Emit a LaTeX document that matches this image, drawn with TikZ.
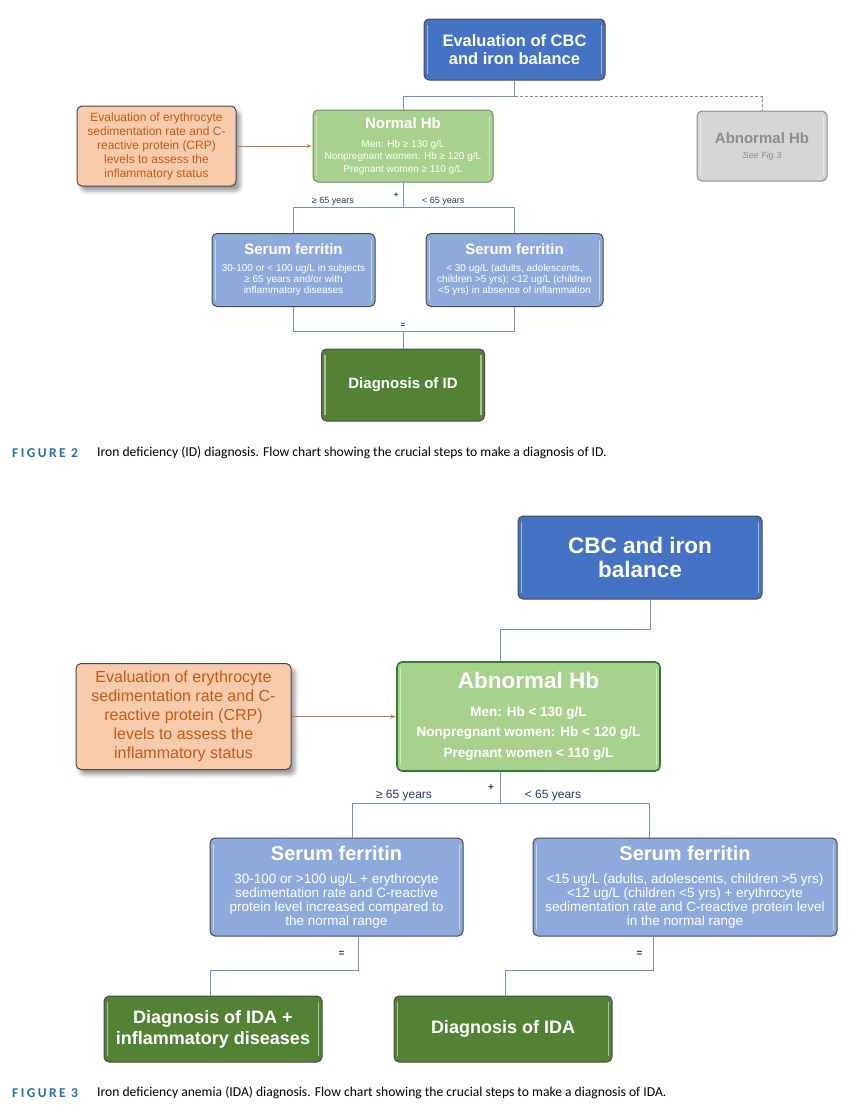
\documentclass[tikz,border=0pt]{standalone}
\usepackage{fontspec}
\setmainfont{Liberation Sans}
\newfontfamily\capfont{Carlito}
\usetikzlibrary{positioning, arrows, shadows.blur}

\definecolor{cbcblue}{HTML}{4472C4}
\definecolor{ferblue}{HTML}{8EA9DB}
\definecolor{hbgreen}{HTML}{A9D18E}
\definecolor{hbline}{HTML}{2E7D32}
\definecolor{hbgray}{HTML}{6F8F62}
\definecolor{dxgreen}{HTML}{548235}
\definecolor{boxline}{HTML}{4A4A4A}
\definecolor{abnfill}{HTML}{D6D6D6}
\definecolor{abnline}{HTML}{8A8A8A}
\definecolor{abntext}{HTML}{8C8C8C}
\definecolor{esrfill}{HTML}{F8CBAD}
\definecolor{esrtext}{HTML}{C55A11}
\definecolor{esrarrow}{HTML}{D0743C}
\definecolor{linkblue}{HTML}{6F8FD0}
\definecolor{navy}{HTML}{1F3864}
\definecolor{capblue}{HTML}{1F6FB5}

\newcommand{\fsz}[2]{\fontsize{#1}{#2}\selectfont}

\begin{document}
\begin{tikzpicture}[x=1pt, y=-1pt, on grid,
    rbox/.style={rounded corners=5pt, draw=boxline, line width=1pt, align=center, inner sep=2pt, text=white},
    gloss/.style={path picture={
      \draw[white, opacity=.5, line width=1.2pt]
        ([xshift=3.5pt, yshift=-6pt]path picture bounding box.north west) -- ([xshift=3.5pt, yshift=6pt]path picture bounding box.south west)
        ([xshift=-3.5pt, yshift=-6pt]path picture bounding box.north east) -- ([xshift=-3.5pt, yshift=6pt]path picture bounding box.south east);}},
    cbcnode/.style={rbox, gloss, fill=cbcblue, font=\bfseries},
    hbnode/.style={rbox, gloss, fill=hbgreen, draw=hbgray},
    fernode/.style={rbox, gloss, fill=ferblue},
    dxnode/.style={rbox, gloss, fill=dxgreen, font=\bfseries},
    abnnode/.style={rbox, gloss, fill=abnfill, draw=abnline, text=abntext},
    esrnode/.style={rbox, fill=esrfill, text=esrtext,
      blur shadow={shadow xshift=4pt, shadow yshift=-5pt, shadow blur radius=4pt}},
    link/.style={draw=linkblue, line width=.9pt},
    dlink/.style={draw=abnline, line width=.9pt, dash pattern=on 3pt off 2pt},
    esrlink/.style={draw=esrarrow, line width=.9pt, ->, >=latex'},
    lbl/.style={text=navy, inner sep=1pt},
    capnum/.style={anchor=west, inner sep=0pt, text=capblue, font=\capfont\bfseries\addfontfeature{LetterSpace=18}\fsz{13.5}{15}},
    captxt/.style={anchor=west, inner sep=0pt, font=\capfont\fsz{13.6}{15}}]
  \useasboundingbox (0,0) rectangle (852,1106);

  % Figure 2
  \node[cbcnode, minimum width=181pt, minimum height=61pt, font=\bfseries\fsz{16.5}{18.5}] (cbc2) at (514.5,49.5)
    {Evaluation of CBC\\and iron balance};
  \node[hbnode, minimum width=180pt, minimum height=72pt, font=\fsz{10}{12.5}] (hb2) [below left=96.5pt and 111.5pt of cbc2]
    {{\bfseries\fsz{15}{18}Normal Hb}\\[6pt]Men: Hb ≥ 130 g/L\\Nonpregnant women: Hb ≥ 120 g/L\\Pregnant women ≥ 110 g/L};
  \node[abnnode, minimum width=130pt, minimum height=70pt, font=\fsz{9}{11}] (abn2) [right=359pt of hb2]
    {{\bfseries\fsz{15}{18}Abnormal Hb}\\[4pt]\itshape See Fig.3};
  \node[esrnode, minimum width=159pt, minimum height=80pt, font=\fsz{12}{14}] (esr2) [left=246.5pt of hb2]
    {Evaluation of erythrocyte\\sedimentation rate and C-\\reactive protein (CRP)\\levels to assess the\\inflammatory status};
  \node[fernode, minimum width=163pt, minimum height=73pt, font=\fsz{10}{11}] (fer2l) [below left=124pt and 109.5pt of hb2]
    {{\bfseries\fsz{15}{18}Serum ferritin}\\[6pt]30-100 or < 100 ug/L in subjects\\≥ 65 years and/or with\\inflammatory diseases};
  \node[fernode, minimum width=177pt, minimum height=73pt, font=\fsz{10}{11}] (fer2r) [right=221pt of fer2l]
    {{\bfseries\fsz{15}{18}Serum ferritin}\\[6pt]< 30 ug/L (adults, adolescents,\\children >5 yrs); <12 ug/L (children\\<5 yrs) in absence of inflammation};
  \node[dxnode, minimum width=163pt, minimum height=72pt, font=\bfseries\fsz{15}{18}] (dx2) [below right=115pt and 109.5pt of fer2l]
    {Diagnosis of ID};

  \draw[link] (cbc2.south) -- ++(0,16) -| (hb2.north);
  \draw[dlink] ([yshift=-16pt]cbc2.south) -| (abn2.north);
  \draw[esrlink] (esr2) -- (hb2);
  \draw[link] (hb2.south) -- ++(0,25) node[lbl, midway, left=3pt, font=\bfseries\fsz{8}{9}] {+}
    -| (fer2l.north) node[lbl, pos=.32, above=1pt, font=\fsz{9}{10}] {≥ 65 years};
  \draw[link] (hb2.south) -- ++(0,25) -| (fer2r.north) node[lbl, pos=.18, above=1pt, font=\fsz{9}{10}] {< 65 years};
  \draw[link] (fer2l.south) -- ++(0,24) -| (dx2.north) node[lbl, pos=.5, above=2pt, font=\bfseries\fsz{8}{9}] {=};
  \draw[link] (fer2r.south) -- ++(0,24) -| (dx2.north);

  \node[capnum] (cap2n) at (12,453) {FIGURE 2};
  \node[captxt] (cap2) at (97,453) {Iron deficiency (ID) diagnosis. Flow chart showing the crucial steps to make a diagnosis of ID.};

  % Figure 3
  \node[cbcnode, minimum width=244pt, minimum height=83pt, font=\bfseries\fsz{22.5}{24}] (cbc3) at (640,557.5)
    {CBC and iron\\balance};
  \node[hbnode, draw=hbline, line width=1.6pt, minimum width=263pt, minimum height=109pt, font=\bfseries\fsz{13.5}{20.5}] (hb3) [below left=159pt and 111.5pt of cbc3]
    {{\fsz{22.5}{26}Abnormal Hb}\\[7pt]Men: Hb < 130 g/L\\Nonpregnant women: Hb < 120 g/L\\Pregnant women < 110 g/L};
  \node[esrnode, minimum width=215pt, minimum height=106pt, font=\fsz{16}{19}] (esr3) [left=345pt of hb3]
    {Evaluation of erythrocyte\\sedimentation rate and C-\\reactive protein (CRP)\\levels to assess the\\inflammatory status};
  \node[fernode, minimum width=253pt, minimum height=98pt, font=\fsz{13.5}{14}] (fer3l) [below left=170.5pt and 192pt of hb3]
    {{\bfseries\fsz{20}{22}Serum ferritin}\\[9pt]30-100 or >100 ug/L + erythrocyte\\sedimentation rate and C-reactive\\protein level increased compared to\\the normal range};
  \node[fernode, minimum width=304pt, minimum height=98pt, font=\fsz{13.5}{14}] (fer3r) [right=348.5pt of fer3l]
    {{\bfseries\fsz{20}{22}Serum ferritin}\\[9pt]<15 ug/L (adults, adolescents, children >5 yrs)\\<12 ug/L (children <5 yrs) + erythrocyte\\sedimentation rate and C-reactive protein level\\in the normal range};
  \node[dxnode, minimum width=218pt, minimum height=66pt, font=\bfseries\fsz{18}{21}] (dx3l) [below left=142pt and 123.5pt of fer3l]
    {Diagnosis of IDA +\\inflammatory diseases};
  \node[dxnode, minimum width=218pt, minimum height=66pt, font=\bfseries\fsz{18}{21}] (dx3r) [right=290pt of dx3l]
    {Diagnosis of IDA};

  \draw[link] ([xshift=10pt]cbc3.south) -- ++(0,30) -| ([xshift=-28pt]hb3.north);
  \draw[esrlink] (esr3) -- (hb3);
  \draw[link] ([xshift=-28pt]hb3.south) -- ++(0,32) node[lbl, midway, left=5pt, font=\bfseries\fsz{10}{11}] {+}
    -| ([xshift=15.5pt]fer3l.north) node[lbl, pos=.325, above=1pt, font=\fsz{12}{13}] {≥ 65 years};
  \draw[link] ([xshift=-28pt]hb3.south) -- ++(0,32) -| ([xshift=-36pt]fer3r.north) node[lbl, pos=.177, above=1pt, font=\fsz{12}{13}] {< 65 years};
  \draw[link] ([xshift=21.5pt]fer3l.south) -- ++(0,34) node[lbl, midway, left=12pt, font=\bfseries\fsz{10}{11}] {=}
    -| ([xshift=-3pt]dx3l.north);
  \draw[link] ([xshift=-32pt]fer3r.south) -- ++(0,34) node[lbl, midway, left=9pt, font=\bfseries\fsz{10}{11}] {=}
    -| ([xshift=2pt]dx3r.north);

  \node[capnum] (cap3n) at (12,1093) {FIGURE 3};
  \node[captxt] (cap3) at (97,1093) {Iron deficiency anemia (IDA) diagnosis. Flow chart showing the crucial steps to make a diagnosis of IDA.};
\end{tikzpicture}
\end{document}
